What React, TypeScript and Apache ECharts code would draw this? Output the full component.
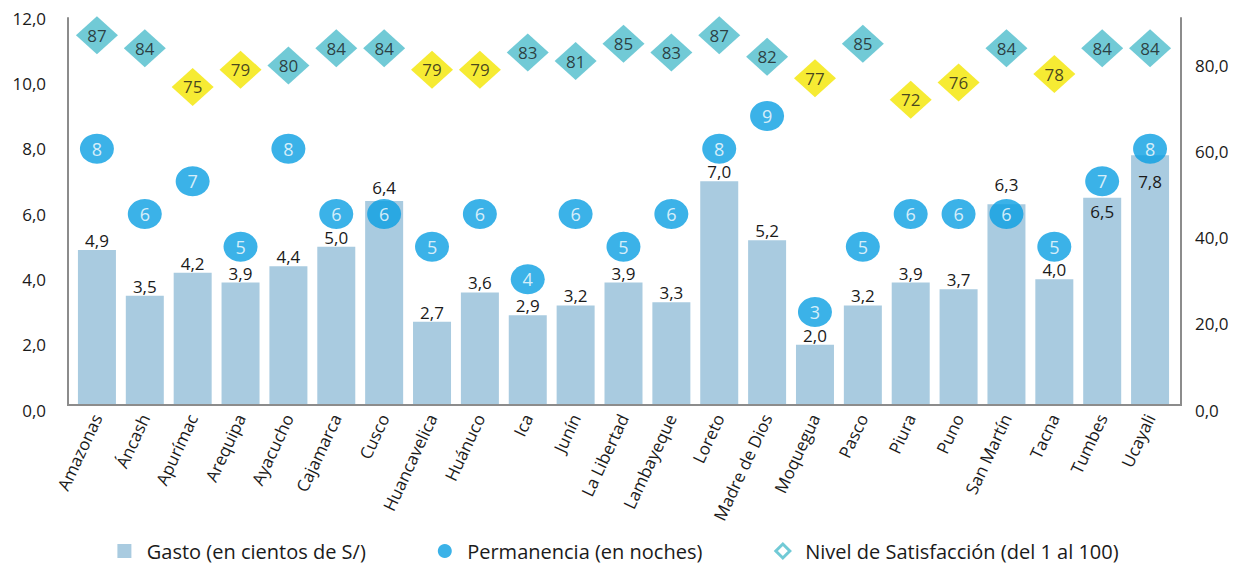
import React, { useEffect, useRef } from "react";
import * as echarts from "echarts";

const categories = [
  "Amazonas", "Áncash", "Apurímac", "Arequipa", "Ayacucho", "Cajamarca", "Cusco",
  "Huancavelica", "Huánuco", "Ica", "Junín", "La Libertad", "Lambayeque", "Loreto",
  "Madre de Dios", "Moquegua", "Pasco", "Piura", "Puno", "San Martín", "Tacna", "Tumbes", "Ucayali",
];
const gasto = [4.9, 3.5, 4.2, 3.9, 4.4, 5.0, 6.4, 2.7, 3.6, 2.9, 3.2, 3.9, 3.3, 7.0, 5.2, 2.0, 3.2, 3.9, 3.7, 6.3, 4.0, 6.5, 7.8];
const permanencia = [8, 6, 7, 5, 8, 6, 6, 5, 6, 4, 6, 5, 6, 8, 9, 3, 5, 6, 6, 6, 5, 7, 8];
const satisfaccion = [87, 84, 75, 79, 80, 84, 84, 79, 79, 83, 81, 85, 83, 87, 82, 77, 85, 72, 76, 84, 78, 84, 84];

const seriesNames = ["Gasto (en cientos de S/)", "Permanencia (en noches)", "Nivel de Satisfacción (del 1 al 100)"];

const FONT = "'Open Sans', sans-serif";
const BAR = "#a9cbe0";
const BLUE = "#0a9fe2";
const TEAL = "#4dbdcc";
const YELLOW = "#f4e600";
const AXIS = "#8c8c8c";

const fmt = (v: number) => v.toFixed(1).replace(".", ",");

// per-bar label placement tweaks (index -> [position, distance])
const labelTweaks: Record<number, [string, number]> = {
  6: ["top", 5],
  19: ["top", 11],
  21: ["insideTop", 5],
  22: ["insideTop", 18],
};

export default function App() {
  const ref = useRef<HTMLDivElement>(null);
  useEffect(() => {
    document.body.style.margin = "0";
    const chart = echarts.init(ref.current!, null, { renderer: "svg" });
    chart.setOption({
      animation: false,
      textStyle: { fontFamily: FONT },
      grid: { left: 73, right: 62, top: 18, bottom: 158 },
      legend: {
        bottom: 2,
        left: "center",
        itemGap: 72,
        itemWidth: 14,
        itemHeight: 14,
        formatter: (n: string) => "  " + n,
        textStyle: { fontSize: 20, color: "#1a1a1a", fontFamily: FONT },
        data: [
          { name: seriesNames[0], icon: "rect" },
          { name: seriesNames[1], icon: "circle", itemStyle: { color: BLUE } },
          { name: seriesNames[2], icon: "diamond", itemStyle: { color: "#fff", borderColor: TEAL, borderWidth: 3 } },
        ],
      },
      xAxis: {
        type: "category",
        data: categories,
        z: 20,
        axisLine: { show: false },
        axisTick: { show: false },
        axisLabel: { rotate: 65, fontSize: 17, color: "#1a1a1a", margin: 5, interval: 0 },
      },
      yAxis: [
        {
          type: "value",
          min: 0,
          max: 12,
          interval: 2,
          offset: 5,
          splitLine: { show: false },
          axisLine: { show: true, lineStyle: { color: AXIS, width: 2 } },
          axisTick: { show: false },
          axisLabel: { fontSize: 17, color: "#1a1a1a", margin: 22, formatter: (v: number) => fmt(v) },
        },
        {
          type: "value",
          min: 0,
          max: 91,
          interval: 20,
          offset: 7,
          position: "right",
          splitLine: { show: false },
          axisLine: { show: true, lineStyle: { color: AXIS, width: 2 } },
          axisTick: { show: false },
          axisLabel: { fontSize: 17, color: "#1a1a1a", margin: 14, showMaxLabel: false, formatter: (v: number) => (v > 80 ? "" : fmt(v)) },
        },
      ],
      graphic: [
        { type: "rect", shape: { x: 60, y: 406, width: 1130, height: 6 }, style: { fill: "#fff" }, z: 15 },
        { type: "line", shape: { x1: 68, y1: 405, x2: 1181, y2: 405 }, style: { stroke: AXIS, lineWidth: 2 }, z: 16 },
      ],
      series: [
        {
          name: seriesNames[0],
          type: "bar",
          yAxisIndex: 0,
          barWidth: 38,
          itemStyle: { color: BAR },
          data: gasto.map((v, i) =>
            labelTweaks[i] !== undefined
              ? { value: v, label: { position: labelTweaks[i][0], distance: labelTweaks[i][1] } }
              : v
          ),
          label: {
            show: true,
            position: "top",
            distance: 1,
            fontSize: 17,
            color: "#1a1a1a",
            formatter: (p: any) => fmt(p.value),
          },
          z: 1,
        },
        {
          name: seriesNames[1],
          type: "scatter",
          yAxisIndex: 0,
          symbol: "circle",
          symbolSize: [34, 30],
          itemStyle: { color: BLUE },
          data: permanencia,
          label: { show: true, position: "inside", color: "#fff", fontSize: 18 },
          z: 3,
        },
        {
          name: seriesNames[2],
          type: "scatter",
          yAxisIndex: 1,
          symbol: "diamond",
          symbolSize: [42, 38],
          itemStyle: { color: (p: any) => (p.value < 80 ? YELLOW : TEAL) },
          data: satisfaccion,
          label: { show: true, position: "inside", color: "#1a1a1a", fontSize: 17 },
          z: 4,
        },
      ],
    });
    return () => chart.dispose();
  }, []);
  return <div ref={ref} style={{ width: 1236, height: 568 }} />;
}
